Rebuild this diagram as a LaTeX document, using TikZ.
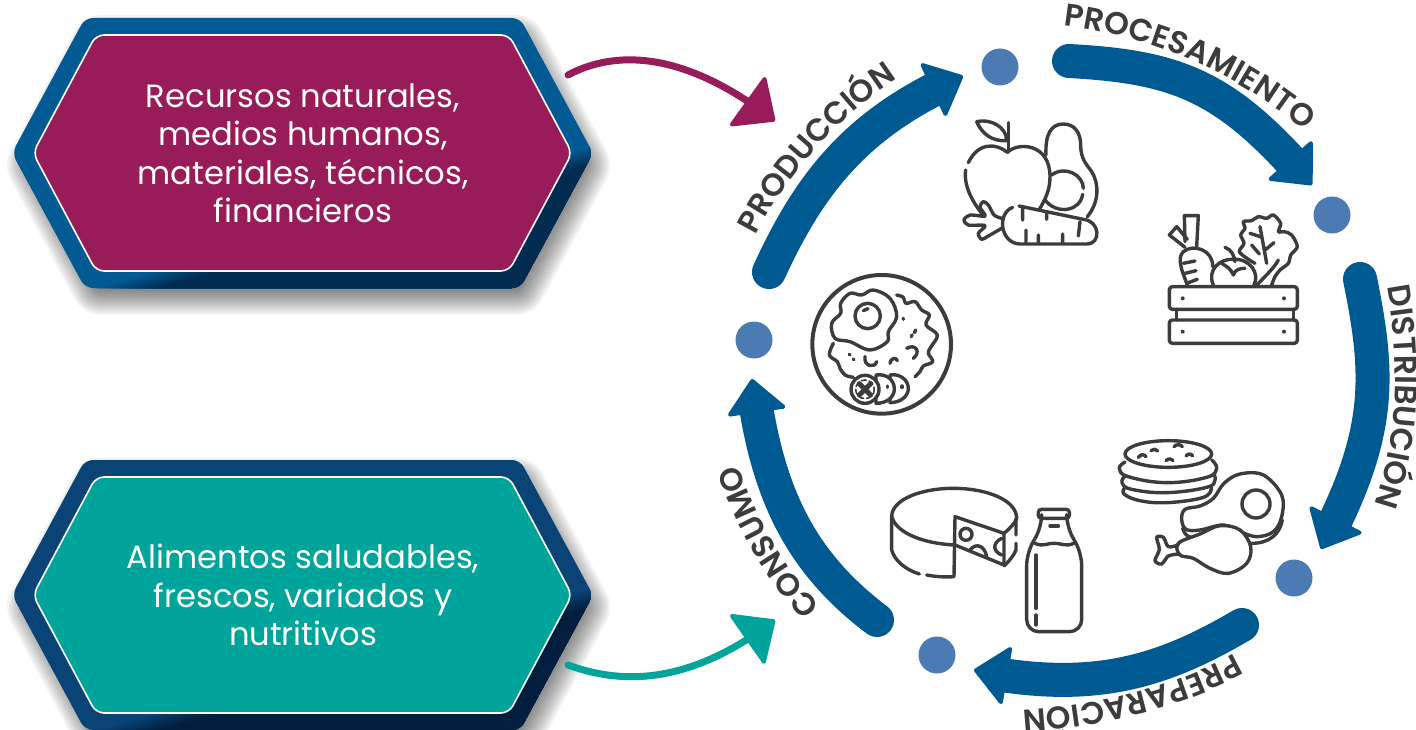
\documentclass[tikz,border=0pt]{standalone}
\usepackage{fontspec}
\setmainfont{Poppins}
\newfontfamily\labelfont{Poppins}[UprightFont=* SemiBold]
\usetikzlibrary{arrows.meta,decorations.text,bending}
\definecolor{bandblue}{HTML}{005A92}
\definecolor{dotblue}{HTML}{4C7AB3}
\definecolor{magentaC}{HTML}{981C5A}
\definecolor{tealC}{HTML}{00A49A}
\definecolor{inkC}{HTML}{3C3C3B}
\definecolor{hexAa}{HTML}{015A92}
\definecolor{hexAb}{HTML}{012B4F}
\definecolor{hexBa}{HTML}{0A4477}
\definecolor{hexBb}{HTML}{021E3E}
\tikzset{
  cyclearrow/.style={draw=bandblue,line width=34pt,line cap=round,
    -{Triangle[length=35pt,width=62pt,round,line width=4pt]}},
  thinarrow/.style={line width=7pt,line cap=round,
    -{Triangle[length=36pt,width=64pt,round,line width=4pt]}},
  stagedot/.style={circle,fill=dotblue,minimum size=37pt,inner sep=0pt},
  hextext/.style={text=white,align=center,font=\fontsize{32.2}{38.5}\selectfont},
  icon/.style={draw=inkC,line width=3.4pt,line cap=round,line join=round},
  curvelabel/.style={decorate,decoration={text along path,text align={center},
    text={|\fontsize{31.5}{31.5}\labelfont\color{inkC}|#1}}},
  zoomA/.style={shift={(950,100)},x=.33333pt,y=-.33333pt},
  zoomB/.style={shift={(800,260)},x=.33333pt,y=-.33333pt},
  zoomC/.style={shift={(1100,430)},x=.33333pt,y=-.33333pt},
}
\newcommand{\hexbox}[6]{%
  % soft shadow: strokes only, from a polygon hidden under the box
  \foreach \w in {4,8,...,64}{
    \draw[black,draw opacity=.045,line width=\w pt,line join=round]
      (39,#1+12)--(102,#1-106)--(515,#1-106)--(578,#1+12)--(515,#1+130)--(102,#1+130)--cycle;
  }
  \begin{scope}
    \clip[rounded corners=8pt] (12,#1)--(85,#1-135)--(520,#1-135)--(593,#1)--(520,#1+135)--(85,#1+135)--cycle;
    \fill[#2] (0,#1-150) rectangle (600,#1+150);
    \begin{scope}[shift={(95,#1+135)},rotate=16]
      \foreach \i in {0,...,20}{
        \pgfmathtruncatemacro{\p}{\i*5}
        \fill[#3!\p!#2] (-300,\i*.9) rectangle (900,400);
      }
    \end{scope}
  \end{scope}
  \draw[white,line width=1.6pt,fill=#4,rounded corners=8pt]
    (33,#1)--(96,#1-118)--(509,#1-118)--(572,#1)--(509,#1+118)--(96,#1+118)--cycle;
  \node[hextext] (#5) at (303,#1) {#6};
}
\begin{document}
\begin{tikzpicture}[x=1pt,y=-1pt]
\useasboundingbox (0,0) rectangle (1416,730);
\fill[white] (0,0) rectangle (1416,730);

\hexbox{153}{hexAa}{hexAb}{magentaC}{recursos}{Recursos naturales,\\medios humanos,\\materiales, técnicos,\\financieros}
\hexbox{595}{hexBa}{hexBb}{tealC}{alimentos}{Alimentos saludables,\\frescos, variados y\\nutritivos}

% stage dots
\node[stagedot] (dotA) at (1000,67) {};
\node[stagedot] (dotB) at (1332,215) {};
\node[stagedot] (dotC) at (1294,578) {};
\node[stagedot] (dotD) at (937,655) {};
\node[stagedot] (dotE) at (754,340) {};

% connector end points
\coordinate (aS) at (769,272);  \coordinate (aE) at (963,76);
\coordinate (bS) at (1069,61);  \coordinate (bE) at (1312,185);
\coordinate (cS) at (1360,279); \coordinate (cE) at (1321,549);
\coordinate (dS) at (1242,625); \coordinate (dE) at (974,670);
\coordinate (eS) at (877,620);  \coordinate (eE) at (752,379);
\coordinate (mS) at (568,75);   \coordinate (mE) at (775,121);
\coordinate (tS) at (568,665);  \coordinate (tE) at (775,620);

% cycle arrows
\draw[cyclearrow] (aS) .. controls (806.8,190) and (852.6,122.8) .. (aE);
\draw[cyclearrow] (bS) .. controls (1179,67) and (1227.5,86.2) .. (bE);
\draw[cyclearrow] (cS) .. controls (1380,377) and (1382,434.6) .. (cE);
\draw[cyclearrow] (dS) .. controls (1161,672.5) and (1091.6,694) .. (dE);
\draw[cyclearrow] (eS) .. controls (797.3,560) and (765.4,488) .. (eE);

% input arrows
\draw[thinarrow,draw=magentaC] (mS) .. controls (615,50) and (684,50) .. (mE);
\draw[thinarrow,draw=tealC] (tS) .. controls (615,682) and (683.6,690) .. (tE);

% curved labels
\path[curvelabel=PRODUCCIÓN] (740,270) .. controls (775,180) and (850,100) .. (930,60);
\path[curvelabel=PROCESAMIENTO] (1012,23) .. controls (1120,22) and (1245,64) .. (1342,166);
\path[curvelabel=DISTRIBUCIÓN] (1378,250) .. controls (1402,330) and (1405,450) .. (1360,540);
\path[curvelabel=PREPARACIÓN] (1282,622) .. controls (1200,687) and (1090,712) .. (965,712);
\path[curvelabel=CONSUMO] (850,635) .. controls (795,590) and (750,515) .. (725,425);

% fruit icon
\begin{scope}[zoomA,icon]
  \draw (172,157) .. controls (205,125) and (300,130) .. (300,230) .. controls (300,270) and (285,300) .. (268,328);
  \draw (172,157) .. controls (140,130) and (85,125) .. (55,188);
  \draw (47,210) .. controls (40,260) and (70,310) .. (103,350);
  \draw (175,68)--(175,155);
  \draw (80,65) .. controls (120,55) and (170,80) .. (170,122) .. controls (125,125) and (95,100) .. (80,65);
  \draw (288,165) .. controls (285,100) and (305,72) .. (340,72) .. controls (375,72) and (392,100) .. (392,135) .. controls (392,180) and (412,195) .. (425,215) .. controls (450,255) and (445,310) .. (412,350);
  \draw (305,225) .. controls (345,195) and (400,225) .. (400,265);
  \draw (398,283) .. controls (390,335) and (320,345) .. (285,300);
  \draw (207,318)--(400,358) .. controls (450,362) and (455,432) .. (410,432)--(210,432) .. controls (150,430) and (140,340) .. (188,322);
  \draw (218,322)--(218,360) (290,335)--(290,358) (390,365)--(385,408) (228,390)--(228,428) (265,405)--(265,428) (338,402)--(338,428);
  \draw plot[smooth,tension=.5] coordinates {(155,355) (132,345) (115,315) (100,305) (90,322) (105,348) (60,345) (42,360) (55,375) (105,377) (85,400) (95,418) (115,408) (155,385)};
\end{scope}

% crate icon
\begin{scope}[zoomA,icon]
  \draw[rounded corners=3pt] (658,560) rectangle (1042,628);
  \draw[rounded corners=3pt] (658,660) rectangle (1042,730);
  \draw (680,628)--(680,660) (1030,628)--(1030,660);
  \fill[inkC] (698,595) circle (6) (1002,595) circle (6) (698,695) circle (6) (1002,695) circle (6);
  \draw (712,555) .. controls (695,510) and (680,475) .. (700,455) .. controls (730,430) and (790,450) .. (788,500);
  \draw (700,490)--(735,483) (705,520)--(738,512) (715,548)--(742,538);
  \draw (705,425)--(703,347)--(745,347)--(740,440);
  \draw (705,442)--(658,405)--(680,380)--(712,418);
  \draw (790,555) .. controls (770,510) and (810,475) .. (850,478) .. controls (900,475) and (930,520) .. (912,555);
  \draw (825,442) .. controls (845,450) and (852,465) .. (855,485);
  \draw (815,490) .. controls (830,500) and (842,505) .. (850,525) .. controls (855,508) and (870,505) .. (885,505);
  \draw plot[smooth,tension=.5] coordinates {(915,490) (895,478) (868,455) (882,430) (872,405) (885,385) (880,365) (905,362) (925,350) (950,355) (970,345) (992,370) (985,395) (1003,395) (1025,405) (1042,440) (1022,465) (1015,490) (990,510) (975,530) (965,555)};
  \draw (920,555) .. controls (950,525) and (975,500) .. (985,480);
  \draw (950,490) -- (930,380) (900,400)--(937,412) (905,435)--(928,462) (972,428)--(945,450);
\end{scope}

% plate icon
\begin{scope}[zoomB,icon]
  \draw[line width=4pt] (245,253) circle (208);
  \draw plot[smooth cycle,tension=.6] coordinates {(122,130) (150,100) (185,105) (220,90) (270,115) (290,170) (265,215) (262,245) (210,270) (150,245) (105,235) (95,190) (122,160)};
  \draw (203,168) circle (38);
  \draw (190,152) -- (204,146);
  \draw plot[smooth,tension=.6] coordinates {(290,105) (310,112) (318,130) (345,125) (365,150) (388,165) (378,195) (412,225) (392,262) (385,280) (398,305) (370,318) (360,335) (345,350)};
  \draw plot[smooth,tension=.6] coordinates {(100,250) (88,285) (112,305) (120,325) (135,345) (160,352)};
  \draw[fill=white] (270,345) .. controls (300,340) and (325,360) .. (325,385) .. controls (325,410) and (300,428) .. (270,428) -- cycle;
  \draw[fill=white] (228,345) .. controls (260,340) and (283,360) .. (283,387) .. controls (283,412) and (260,430) .. (228,430) -- cycle;
  \draw[fill=white] (195,388) circle (42);
  \draw[dash pattern=on 5pt off 3pt,line width=1.6pt] (195,388) circle (28);
  \draw[line width=5pt] (178,371)--(212,405) (212,371)--(178,405);
  \draw (262,378)--(262,382) (306,378)--(306,382);
  \draw (148,283)--(150,285) (160,297)--(162,299) (310,175)--(310,178) (347,210)--(343,218) (336,225)--(334,230);
  \draw (195,290) .. controls (190,320) and (225,325) .. (230,305);
  \draw (270,310) .. controls (270,295) and (290,290) .. (292,302);
  \draw (320,265) .. controls (345,250) and (365,275) .. (340,295);
\end{scope}

% cheese and bottle icon
\begin{scope}[zoomB,icon]
  \draw (275,770) .. controls (275,720) and (360,685) .. (460,685) .. controls (560,685) and (650,720) .. (650,775) .. controls (645,790) and (630,805) .. (612,820);
  \draw (612,820)--(465,770)--(462,950) .. controls (435,952) and (405,950) .. (380,945);
  \draw (275,770) .. controls (290,820) and (370,850) .. (462,855);
  \draw (275,770)--(275,870) .. controls (285,905) and (320,930) .. (358,942);
  \draw (465,855)--(612,915)--(612,820);
  \draw (648,775)--(648,825) (648,850)--(648,870) .. controls (640,890) and (625,905) .. (612,918);
  \draw (498,823) circle (18);
  \draw (510,870) .. controls (530,845) and (555,860) .. (560,890);
  \draw (605,835) .. controls (575,850) and (580,875) .. (605,885);
  \draw[rounded corners=3pt] (715,748) rectangle (808,775);
  \draw[rounded corners=12pt] (725,775)--(725,800)--(680,880)--(680,1115)--(845,1115)--(845,880)--(800,800)--(800,775);
  \draw (705,850) .. controls (730,862) and (745,848) .. (762,850) .. controls (780,848) and (795,862) .. (822,850);
  \draw (750,798)--(775,798);
  \draw (708,885)--(708,1045) (708,1065)--(708,1095);
\end{scope}

% tortillas and meat icon
\begin{scope}[zoomC,icon]
  \draw (205,72) ellipse (130 and 40);
  \draw (115,82) .. controls (122,72) and (132,72) .. (138,80);
  \draw (153,62) .. controls (160,56) and (168,56) .. (173,63);
  \draw (222,50) .. controls (230,42) and (240,42) .. (247,50);
  \draw (198,92) .. controls (205,85) and (212,85) .. (219,92);
  \draw (258,78) .. controls (265,70) and (272,70) .. (278,78);
  \draw plot[smooth,tension=.7] coordinates {(75,96) (58,115) (85,140) (200,158) (320,142) (350,115) (335,90)};
  \draw plot[smooth,tension=.7] coordinates {(75,138) (66,158) (95,178) (200,188) (320,172) (345,150) (340,132)};
  \draw plot[smooth,tension=.7] coordinates {(75,172) (72,192) (120,212) (200,218) (300,205) (332,185) (332,168)};
  \draw[fill=white] plot[smooth cycle,tension=.6] coordinates {(300,228) (340,205) (372,160) (420,132) (490,135) (545,195) (545,260) (520,305) (470,320) (420,305) (370,285) (300,300) (258,298) (245,268) (255,238)};
  \draw (468,222) circle (42);
  \draw (248,295) .. controls (252,310) and (262,320) .. (272,322);
  \draw (547,270) .. controls (540,310) and (510,340) .. (455,340);
  \draw[fill=white] plot[smooth cycle,tension=.6] coordinates {(235,340) (300,312) (360,287) (420,300) (452,350) (440,400) (385,430) (330,415) (280,385) (240,375)};
  \draw plot[smooth,tension=.5] coordinates {(235,345) (205,350) (190,322) (170,322) (178,358) (165,392) (185,402) (205,378) (235,372)};
\end{scope}
\end{tikzpicture}
\end{document}
